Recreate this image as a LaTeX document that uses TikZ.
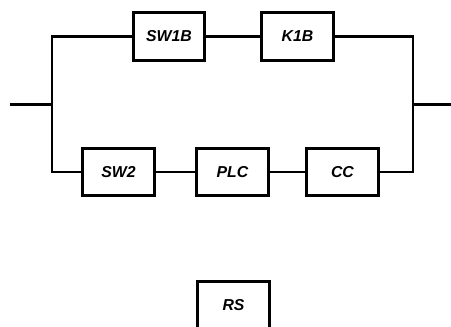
\documentclass[tikz,border=0pt]{standalone}
\usepackage{fontspec}
\newfontfamily\blockfont{Liberation Sans}

\begin{document}
\begin{tikzpicture}[x=0.02cm,y=-0.02cm,
  line width=1.7pt,
  font=\blockfont\bfseries\itshape\small,
  block/.style={draw,rectangle,minimum width=1.44cm,minimum height=0.95cm,inner sep=0pt},
  every node/.style={align=center}]

\useasboundingbox (0,0) rectangle (451,326);
\clip (0,0) rectangle (451,326);

%blocks of the upper branch
  \node[block] (sw1b) at (169,36.5) {SW1B};
  \node[block] (k1b) at (297.5,36.5) {K1B};

%blocks of the lower branch
  \node[block] (sw2) at (118.5,172) {SW2};
  \node[block] (plc) at (232.5,172) {PLC};
  \node[block] (cc) at (342.5,172) {CC};

%separate block
  \node[block] (rs) at (233.5,305) {RS};

%input, output and branch points
  \coordinate (in) at (10,104);
  \coordinate (lsplit) at (52,104);
  \coordinate (rjoin) at (413,104);
  \coordinate (out) at (451,104);

%draw connections
  \draw (in) -- (lsplit);
  \draw (rjoin) -- (out);
  \draw (lsplit) |- (sw1b);
  \draw (lsplit) |- (sw2);
  \draw (k1b) -| (rjoin);
  \draw (cc) -| (rjoin);
  \foreach \a/\b in {sw1b/k1b, sw2/plc, plc/cc}
    \draw (\a) -- (\b);

\end{tikzpicture}
\end{document}
